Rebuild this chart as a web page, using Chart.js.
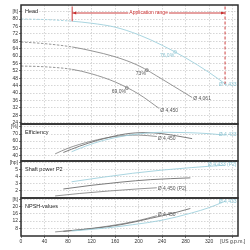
<!DOCTYPE html>
<html>
<head>
<meta charset="utf-8">
<script src="https://cdn.jsdelivr.net/npm/chart.js@4.4.1/dist/chart.umd.min.js"></script>
<style>
html, body { margin: 0; padding: 0; background: #fff; }
#wrap { position: relative; width: 250px; height: 250px; overflow: hidden; }
canvas { position: absolute; left: 0; }
</style>
</head>
<body>
<div id="wrap">
  <canvas id="head" width="250" height="127" style="top:1px"></canvas>
  <canvas id="eff" width="250" height="45" style="top:120px"></canvas>
  <canvas id="power" width="250" height="45" style="top:157px"></canvas>
  <canvas id="npsh" width="250" height="56" style="top:194px"></canvas>
</div>
<script>
// flow axis [US g.p.m.]
const xTicks = [0, 40, 80, 120, 160, 200, 240, 280, 320, 360];
const flowMax = 369;

// head [ft]
const headTicks = [24, 28, 32, 36, 40, 44, 48, 52, 56, 60, 64, 68, 72, 76, 80, 84];
const headQ4433 = [0, 40, 87, 120, 160, 200, 240, 280, 320, 347];
const headH4433 = [80, 79.7, 78.8, 77.7, 75.6, 71.5, 65.8, 59.0, 51.1, 45.0];
const headQ4061 = [0, 40, 87, 120, 160, 200, 240, 270, 291];
const headH4061 = [67.6, 66.7, 64.9, 62.8, 59.6, 54.8, 47.5, 41.7, 37.6];
const headQ4450 = [0, 40, 87, 120, 160, 200, 235];
const headH4450 = [54.6, 54.2, 52.8, 50.4, 46.0, 39.5, 31.7];
const bepQ = [262, 214, 180];
const bepH = [62.2, 52.4, 42.7];
const bepText = ['76,0%', '73%', '69,0%'];
const appRange = [87, 347];

// efficiency [%]
const effTicks = [40, 50, 60, 70, 80];
const effQ4433 = [86, 110, 140, 177, 210, 240, 280, 320, 347];
const effE4433 = [45, 53, 61, 67.5, 71, 72.5, 72, 70.5, 68.5];
const effQ4061 = [72, 100, 130, 177, 211, 240, 274, 291];
const effE4061 = [44, 53, 61, 70, 72, 70.5, 66, 63.5];
const effQ4450 = [58, 80, 120, 160, 200, 231];
const effE4450 = [42, 50, 60, 66.5, 68.5, 66.5];

// shaft power P2 [hp]
const powerTicks = [2, 3, 4, 5, 6];
const powQ4433 = [86, 140, 190, 240, 290, 347];
const powP4433 = [3.3, 3.95, 4.5, 4.95, 5.3, 5.65];
const powQ4061 = [72, 120, 170, 220, 288];
const powP4061 = [2.28, 2.8, 3.25, 3.6, 3.85];
const powQ4450 = [58, 100, 150, 200, 231];
const powP4450 = [1.3, 1.65, 2.0, 2.3, 2.45];

// NPSH [ft]
const npshTicks = [8, 12, 16, 20, 24];
const npshQ4433 = [86, 140, 190, 240, 290, 320, 347];
const npshN4433 = [6.5, 8.0, 10.0, 12.5, 16.5, 19.5, 23.0];
const npshQ4061 = [72, 120, 170, 220, 260, 288];
const npshN4061 = [6.3, 7.8, 10.0, 13.5, 16.5, 19.0];
const npshQ4450 = [58, 100, 150, 200, 231];
const npshN4450 = [6.0, 7.2, 9.3, 12.3, 15.0];

const FONT = '"Liberation Sans", Arial, sans-serif';
const cCyan = '#9fd0dc';
const cCyanText = '#8cc4d2';
const cMid = '#6e6e6e';
const cLow = '#8a8a8a';
const red = '#c62a2a';

function line(q, v, color, dashTo) {
    return {
        data: q.map((x, i) => ({ x: x, y: v[i] })),
        borderColor: color,
        borderWidth: 0.9,
        pointRadius: 0,
        cubicInterpolationMode: 'monotone',
        segment: {
            borderDash: ctx => (dashTo && ctx.p1.parsed.x <= dashTo) ? [2.5, 1.5] : undefined
        }
    };
}

function xAxis(showLabels) {
    return {
        type: 'linear', min: 0, max: flowMax, bounds: 'data',
        afterBuildTicks: s => { s.ticks = xTicks.map(v => ({ value: v })); },
        afterFit: s => { s.height = showLabels ? 14 : 0; s.paddingLeft = 0; s.paddingRight = 0; },
        ticks: {
            display: showLabels, autoSkip: false, maxRotation: 0, padding: 1,
            color: '#333', font: { family: FONT, size: 5 },
            callback: v => v === 360 ? '[US g.p.m.]' : v
        },
        grid: { color: '#c4c4c4', lineWidth: 0.7, drawTicks: showLabels, tickLength: 2, tickColor: '#444', tickWidth: 0.7 },
        border: { display: false, dash: [1.5, 1.5] }
    };
}

function yAxis(min, max, ticks, unit) {
    return {
        type: 'linear', min: min, max: max, bounds: 'data',
        afterBuildTicks: s => { s.ticks = ticks.map(v => ({ value: v })); },
        afterFit: s => { s.width = 21; s.paddingTop = 0; s.paddingBottom = 0; },
        ticks: {
            autoSkip: false, padding: 1, color: '#333', font: { family: FONT, size: 5 },
            callback: v => v === ticks[ticks.length - 1] ? unit : v
        },
        grid: { color: '#c4c4c4', lineWidth: 0.7, tickLength: 2, tickColor: '#444', tickWidth: 0.7 },
        border: { display: false, dash: [1.5, 1.5] }
    };
}

function panelPlugin(title, titleDy, labels, extra) {
    return {
        id: 'panel',
        afterDatasetsDraw(chart) {
            const ctx = chart.ctx, a = chart.chartArea;
            ctx.save();
            ctx.font = '5px ' + FONT;
            ctx.textBaseline = 'middle';
            labels.forEach(l => {
                const pts = chart.getDatasetMeta(l.ds).data;
                const p = pts[pts.length - 1];
                ctx.fillStyle = l.color;
                ctx.textAlign = l.right ? 'right' : 'left';
                ctx.fillText(l.text, l.right ? a.right - 1.5 : p.x + 1, p.y + l.dy);
            });
            if (extra) extra(chart);
            ctx.font = '5.5px ' + FONT;
            ctx.textAlign = 'left';
            ctx.textBaseline = 'middle';
            const w = ctx.measureText(title).width;
            ctx.fillStyle = '#fff';
            ctx.fillRect(a.left + 3, a.top + titleDy - 3, w + 2, 6);
            ctx.fillStyle = '#222';
            ctx.fillText(title, a.left + 4, a.top + titleDy);
            ctx.strokeStyle = '#2e2e2e';
            ctx.lineWidth = 1.5;
            ctx.strokeRect(a.left, a.top, a.right - a.left, a.bottom - a.top);
            ctx.restore();
        }
    };
}

function drawHeadExtras(chart) {
    const { ctx, chartArea: a, scales: { x, y } } = chart;
    // BEP labels
    const bep = chart.getDatasetMeta(3).data;
    ctx.font = '5px ' + FONT;
    ctx.textAlign = 'right';
    ctx.textBaseline = 'middle';
    bep.forEach((p, i) => {
        ctx.fillStyle = i === 0 ? cCyanText : '#555';
        ctx.fillText(bepText[i], p.x - 1, p.y + 3.5);
    });
    // application range
    const x0 = x.getPixelForValue(appRange[0]);
    const x1 = x.getPixelForValue(appRange[1]);
    const y0 = y.getPixelForValue(headH4433[headQ4433.indexOf(appRange[0])]);
    const y1 = y.getPixelForValue(headH4433[headQ4433.indexOf(appRange[1])]);
    const top = a.top + 1.5, ya = a.top + 8;
    ctx.strokeStyle = red;
    ctx.fillStyle = red;
    ctx.lineWidth = 0.9;
    ctx.beginPath(); ctx.moveTo(x0, top); ctx.lineTo(x0, y0); ctx.stroke();
    ctx.setLineDash([3, 2]);
    ctx.beginPath(); ctx.moveTo(x1, top); ctx.lineTo(x1, y1); ctx.stroke();
    ctx.setLineDash([]);
    ctx.beginPath(); ctx.moveTo(x0, ya); ctx.lineTo(x1, ya); ctx.stroke();
    ctx.beginPath(); ctx.moveTo(x0 + 0.5, ya); ctx.lineTo(x0 + 4, ya - 1.6); ctx.lineTo(x0 + 4, ya + 1.6); ctx.fill();
    ctx.beginPath(); ctx.moveTo(x1 - 0.5, ya); ctx.lineTo(x1 - 4, ya - 1.6); ctx.lineTo(x1 - 4, ya + 1.6); ctx.fill();
    const label = 'Application range';
    const w = ctx.measureText(label).width;
    const xm = (x0 + x1) / 2;
    ctx.fillStyle = '#fff';
    ctx.fillRect(xm - w / 2 - 1, ya - 3, w + 2, 6);
    ctx.fillStyle = red;
    ctx.textAlign = 'center';
    ctx.fillText(label, xm, ya);
}

function makeChart(id, datasets, yScale, bottom, plugin) {
    return new Chart(document.getElementById(id), {
        type: 'line',
        data: { datasets: datasets },
        options: {
            responsive: false,
            animation: false,
            events: [],
            layout: { autoPadding: false, padding: { top: 4, bottom: bottom ? 0 : 4, left: 0, right: 12 } },
            scales: { x: xAxis(bottom), y: yScale },
            plugins: { legend: { display: false }, tooltip: { enabled: false } }
        },
        plugins: [plugin]
    });
}

makeChart('head', [
    line(headQ4433, headH4433, cCyan, appRange[0]),
    line(headQ4061, headH4061, cLow, appRange[0]),
    line(headQ4450, headH4450, cLow, appRange[0]),
    {
        data: bepQ.map((x, i) => ({ x: x, y: bepH[i] })),
        showLine: false, pointStyle: 'rect', pointRadius: 1.7, pointBorderWidth: 0.8,
        pointBorderColor: [cCyan, cMid, cMid], pointBackgroundColor: '#fff'
    }
], yAxis(23.3, 87.56, headTicks, '[ft]'), false, panelPlugin('Head', 6.5, [
    { ds: 0, text: 'Ø 4,433', color: cCyanText, right: true, dy: 0.5 },
    { ds: 1, text: 'Ø 4,061', color: '#555', dy: 1 },
    { ds: 2, text: 'Ø 4,450', color: '#555', dy: 2.5 }
], drawHeadExtras));

makeChart('eff', [
    line(effQ4433, effE4433, cCyan),
    line(effQ4061, effE4061, cMid),
    line(effQ4450, effE4450, cLow)
], yAxis(32.0, 84.1, effTicks, '[%]'), false, panelPlugin('Efficiency', 8.5, [
    { ds: 0, text: 'Ø 4,433', color: cCyanText, right: true, dy: 0 },
    { ds: 2, text: 'Ø 4,450', color: '#555', dy: 2 }
]));

makeChart('power', [
    line(powQ4433, powP4433, cCyan),
    line(powQ4061, powP4061, cMid),
    line(powQ4450, powP4450, cLow)
], yAxis(1.01, 6.23, powerTicks, '[hp]'), false, panelPlugin('Shaft power P2', 8.3, [
    { ds: 0, text: 'Ø 4,433 (P2)', color: cCyanText, right: true, dy: 0 },
    { ds: 2, text: 'Ø 4,450 (P2)', color: '#555', dy: 0.5 }
]));

makeChart('npsh', [
    line(npshQ4433, npshN4433, cCyan),
    line(npshQ4061, npshN4061, cMid),
    line(npshQ4450, npshN4450, cLow)
], yAxis(3.72, 24.83, npshTicks, '[ft]'), true, panelPlugin('NPSH-values', 8, [
    { ds: 0, text: 'Ø 4,433', color: cCyanText, right: true, dy: 0.5 },
    { ds: 2, text: 'Ø 4,450', color: '#555', dy: -1.5 }
]));
</script>
</body>
</html>
